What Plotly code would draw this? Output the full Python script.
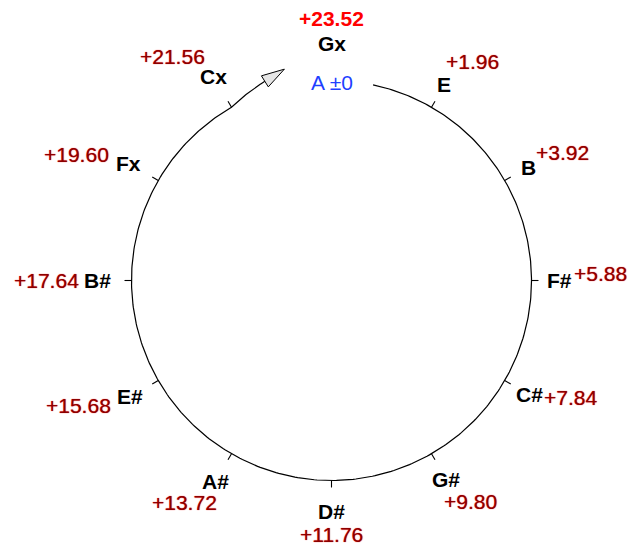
import numpy as np
import plotly.graph_objects as go

# ---- data ----
notes = ["A", "E", "B", "F#", "C#", "G#", "D#", "A#", "E#", "B#", "Fx", "Cx", "Gx"]
cents = [0.00, 1.96, 3.92, 5.88, 7.84, 9.80, 11.76, 13.72, 15.68, 17.64, 19.60, 21.56, 23.52]
cent_labels = ["±0"] + ["+%.2f" % c for c in cents[1:]]

# ---- geometry (layout constants) ----
PAGE_OFF = 8                    # default body margin of the html page
W, H = 635 - PAGE_OFF, 546 - PAGE_OFF
CX, CY = 331.5 - PAGE_OFF, 280.5 - PAGE_OFF   # circle centre in figure pixels
R = 200.0
STEP = 360.0 / (len(notes) - 1)
ARC_START = 12.0
TICK = 7.0
FS = 21
FONT = "Liberation Sans, Arial, sans-serif"
NUM_COLOR = "#8b0000"
NUM_SHADOW = "0px 0px 1px #ff1010"


def pol(r, deg):
    t = np.radians(deg)
    return r * np.sin(t), r * np.cos(t)


def note_w(t):      # approx. width of a bold note label
    return FS * (0.7 + 0.556 * (len(t) - 1))


def num_w(t):       # approx. width of a "+dd.dd" label
    return FS * (0.584 + 0.278 + 0.556 * (len(t) - 2))


fig = go.Figure()

# main circle arc + spiral lead to arrow
last_ang = STEP * (len(notes) - 2)
th = np.linspace(ARC_START, last_ang, 400)
ax_, ay_ = pol(R, th)
th2 = np.linspace(last_ang, last_ang + 11.5, 40)
r2 = R + (th2 - last_ang) * 0.87
bx, by = pol(r2, th2)
xs = np.concatenate([ax_, bx])
ys = np.concatenate([ay_, by])
fig.add_trace(go.Scatter(x=xs, y=ys, mode="lines",
                         line=dict(color="black", width=1.2),
                         hoverinfo="skip", showlegend=False))

# arrow head
b = np.array([bx[-1], by[-1]])
d = np.array([bx[-1] - bx[-2], by[-1] - by[-2]])
d = d / np.hypot(*d)
p = np.array([-d[1], d[0]])
tip = b + 23 * d
c1 = b + 6.5 * p
c2 = b - 6.5 * p
fig.add_trace(go.Scatter(x=[tip[0], c1[0], c2[0], tip[0]],
                         y=[tip[1], c1[1], c2[1], tip[1]],
                         mode="lines", fill="toself", fillcolor="#e6e6e6",
                         line=dict(color="black", width=1),
                         hoverinfo="skip", showlegend=False))

# ticks
tx, ty = [], []
for i in range(1, len(notes) - 1):
    a = STEP * i
    x0, y0 = pol(R, a)
    x1, y1 = pol(R + TICK, a)
    tx += [x0, x1, None]
    ty += [y0, y1, None]
fig.add_trace(go.Scatter(x=tx, y=ty, mode="lines",
                         line=dict(color="black", width=1.1),
                         hoverinfo="skip", showlegend=False))

ann = []
# A ±0
ann.append(dict(x=0, y=R - 2, text=notes[0] + " " + cent_labels[0], showarrow=False,
                xanchor="center", yanchor="middle",
                font=dict(family=FONT, size=FS, color="#1f3fff")))

for i in range(1, len(notes)):
    a = STEP * i
    rn = 225 + 0.5 * cents[i]
    nx, ny = pol(rn, a)
    ann.append(dict(x=nx, y=ny, text="<b>%s</b>" % notes[i], showarrow=False,
                    xanchor="center", yanchor="middle",
                    font=dict(family=FONT, size=FS, color="black")))
    s = np.sin(np.radians(a))
    c = np.cos(np.radians(a))
    if abs(s) < 1e-9:
        s = 0.0
    gap = 1 if s > 0 else 6
    side = note_w(notes[i]) / 2 + gap + num_w(cent_labels[i]) / 2
    lower_diag = -0.95 < c < -0.7
    k = min(1.0, 1.12 * np.sqrt(abs(s))) * (0.75 if c < -0.7 else 1.0)
    dx = np.sign(s) * k * side
    lift = 7 * s if (s > 0 and c > -0.7) else 0.0
    dys = -c * np.sqrt(abs(c)) * (25 if c > 0 else 23) - lift + (3 if lower_diag else 0)
    last = i == len(notes) - 1
    if last:
        f = dict(family=FONT, size=FS, color="#ff0000")
        txt = "<b>%s</b>" % cent_labels[i]
    else:
        f = dict(family=FONT, size=FS, color=NUM_COLOR, shadow=NUM_SHADOW)
        txt = cent_labels[i]
    ann.append(dict(x=nx + dx, y=ny - dys, text=txt,
                    showarrow=False, xanchor="center", yanchor="middle", font=f))

fig.update_layout(
    width=W, height=H,
    margin=dict(l=0, r=0, t=0, b=0),
    paper_bgcolor="white", plot_bgcolor="white",
    xaxis=dict(range=[-CX, W - CX], visible=False, fixedrange=True),
    yaxis=dict(range=[-(H - CY), CY], visible=False, fixedrange=True),
    annotations=ann,
    showlegend=False,
)

fig.write_html("out.html")
